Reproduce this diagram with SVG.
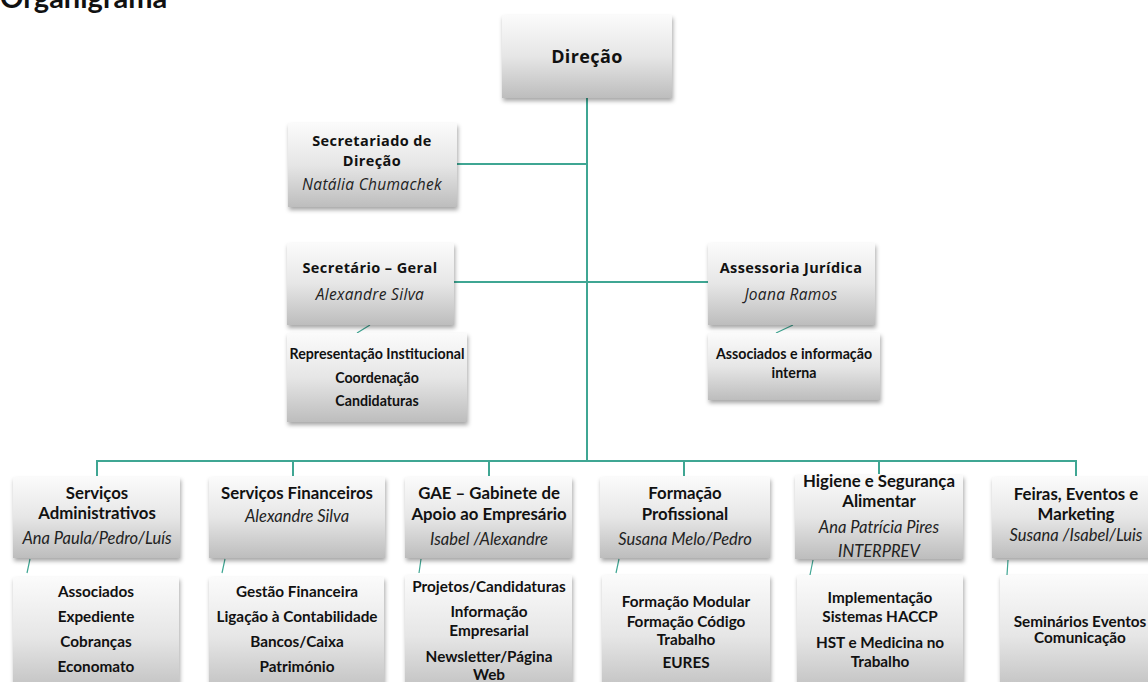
<svg xmlns="http://www.w3.org/2000/svg" width="1148" height="682" viewBox="0 0 1148 682">
<defs>
<linearGradient id="g" x1="0" y1="0" x2="0" y2="1">
<stop offset="0" stop-color="#fbfbfb"/>
<stop offset="0.5" stop-color="#e6e6e6"/>
<stop offset="1" stop-color="#bdbdbd"/>
</linearGradient>
<filter id="sh" x="-10%" y="-10%" width="125%" height="130%">
<feDropShadow dx="1" dy="3" stdDeviation="2" flood-color="#000" flood-opacity="0.35"/>
</filter>
<style>
.box{fill:url(#g);filter:url(#sh)}
.ln{stroke:#3fa693;stroke-width:2;fill:none}
.tn{stroke:#3fa693;stroke-width:1.2;fill:none}
text{fill:#111;text-anchor:middle}
.h1{font-family:"Open Sans","DejaVu Sans",sans-serif;font-weight:bold;font-size:14.5px;letter-spacing:0.4px}
.i1{font-family:"Open Sans","DejaVu Sans",sans-serif;font-style:italic;font-size:15.5px;fill:#222;letter-spacing:0.3px}
.h2{font-family:Lato,"Liberation Sans",sans-serif;font-weight:bold;font-size:16.8px}
.i2{font-family:Lato,"Liberation Sans",sans-serif;font-style:italic;font-size:16.5px;fill:#222}
.s{font-family:Lato,"Liberation Sans",sans-serif;font-weight:bold;font-size:14.2px}
.b{font-family:Lato,"Liberation Sans",sans-serif;font-weight:bold;font-size:15.3px}
.title{font-family:Lato,"Liberation Sans",sans-serif;font-weight:bold;font-size:29px;text-anchor:start}
</style>
</defs>
<text class="title" x="0" y="8">Organigrama</text>
<g id="connectors">
<path class="ln" d="M587 98 V461"/>
<path class="ln" d="M457 164 H587"/>
<path class="ln" d="M454 282 H708"/>
<path class="ln" d="M97 476 V461 H1076 V476"/>
<path class="ln" d="M293 461 V476 M489 461 V476 M684 461 V476 M879 461 V474"/>
<path class="tn" d="M357 333 L370 325 M776 333 L793 325 M27 573 L30 559 M222 573 L225 559 M419 573 L421 559 M616 573 L619 559 M810 575 L813 560 M1007 575 L1008 560"/>
</g>
<g id="direcao">
<rect class="box" x="502" y="15" width="170" height="83"/>
<text class="h1" x="587" y="63" style="font-size:18px">Direção</text>
</g>
<g id="secretariado">
<rect class="box" x="288" y="123" width="169" height="84"/>
<text class="h1" x="372" y="146">Secretariado de</text>
<text class="h1" x="372" y="166">Direção</text>
<text class="i1" x="372" y="190">Natália Chumachek</text>
</g>
<g id="secretario-geral">
<rect class="box" x="287" y="243" width="167" height="82"/>
<text class="h1" x="370" y="273">Secretário – Geral</text>
<text class="i1" x="370" y="300">Alexandre Silva</text>
</g>
<g id="sg-tarefas">
<rect class="box" x="287" y="333" width="180" height="89"/>
<text class="s" x="377" y="359">Representação Institucional</text>
<text class="s" x="377" y="383">Coordenação</text>
<text class="s" x="377" y="406">Candidaturas</text>
</g>
<g id="assessoria">
<rect class="box" x="708" y="243" width="167" height="82"/>
<text class="h1" x="791" y="273">Assessoria  Jurídica</text>
<text class="i1" x="791" y="300">Joana Ramos</text>
</g>
<g id="aj-tarefas">
<rect class="box" x="708" y="333" width="172" height="67"/>
<text class="s" x="794" y="359">Associados e informação</text>
<text class="s" x="794" y="378">interna</text>
</g>
<g id="servicos-administrativos">
<rect class="box" x="13" y="477" width="167" height="81"/>
<text class="h2" x="97" y="499">Serviços</text>
<text class="h2" x="97" y="519">Administrativos</text>
<text class="i2" x="97" y="544">Ana Paula/Pedro/Luís</text>
</g>
<g id="sa-tarefas">
<rect class="box" x="13" y="577" width="166" height="120"/>
<text class="b" x="96" y="597">Associados</text>
<text class="b" x="96" y="622">Expediente</text>
<text class="b" x="96" y="647">Cobranças</text>
<text class="b" x="96" y="672">Economato</text>
</g>
<g id="servicos-financeiros">
<rect class="box" x="209" y="477" width="176" height="81"/>
<text class="h2" x="297" y="499">Serviços Financeiros</text>
<text class="i2" x="297" y="522">Alexandre Silva</text>
</g>
<g id="sf-tarefas">
<rect class="box" x="209" y="577" width="175" height="120"/>
<text class="b" x="297" y="597">Gestão Financeira</text>
<text class="b" x="297" y="622">Ligação à Contabilidade</text>
<text class="b" x="297" y="647">Bancos/Caixa</text>
<text class="b" x="297" y="672">Património</text>
</g>
<g id="gae">
<rect class="box" x="405" y="477" width="167" height="81"/>
<text class="h2" x="489" y="499">GAE – Gabinete de</text>
<text class="h2" x="489" y="520">Apoio ao Empresário</text>
<text class="i2" x="489" y="545">Isabel /Alexandre</text>
</g>
<g id="gae-tarefas">
<rect class="box" x="405" y="575" width="167" height="122"/>
<text class="b" x="489" y="592">Projetos/Candidaturas</text>
<text class="b" x="489" y="617">Informação</text>
<text class="b" x="489" y="636">Empresarial</text>
<text class="b" x="489" y="662">Newsletter/Página</text>
<text class="b" x="489" y="680">Web</text>
</g>
<g id="formacao">
<rect class="box" x="600" y="477" width="170" height="81"/>
<text class="h2" x="685" y="499">Formação</text>
<text class="h2" x="685" y="520">Profissional</text>
<text class="i2" x="685" y="545">Susana Melo/Pedro</text>
</g>
<g id="formacao-tarefas">
<rect class="box" x="602" y="575" width="168" height="122"/>
<text class="b" x="686" y="607">Formação Modular</text>
<text class="b" x="686" y="627">Formação Código</text>
<text class="b" x="686" y="645">Trabalho</text>
<text class="b" x="686" y="668">EURES</text>
</g>
<g id="higiene">
<rect class="box" x="795" y="475" width="168" height="84"/>
<text class="h2" x="879" y="487">Higiene e Segurança</text>
<text class="h2" x="879" y="507">Alimentar</text>
<text class="i2" x="879" y="533">Ana Patrícia Pires</text>
<text class="i2" x="879" y="557">INTERPREV</text>
</g>
<g id="higiene-tarefas">
<rect class="box" x="797" y="575" width="166" height="122"/>
<text class="b" x="880" y="603">Implementação</text>
<text class="b" x="880" y="622">Sistemas HACCP</text>
<text class="b" x="880" y="648">HST e Medicina no</text>
<text class="b" x="880" y="667">Trabalho</text>
</g>
<g id="feiras">
<rect class="box" x="992" y="477" width="170" height="81"/>
<text class="h2" x="1076" y="500">Feiras, Eventos e</text>
<text class="h2" x="1076" y="520">Marketing</text>
<text class="i2" x="1076" y="541">Susana /Isabel/Luis</text>
</g>
<g id="feiras-tarefas">
<rect class="box" x="1000" y="575" width="165" height="122"/>
<text class="b" x="1080" y="627">Seminários Eventos</text>
<text class="b" x="1080" y="643">Comunicação</text>
</g>
</svg>
